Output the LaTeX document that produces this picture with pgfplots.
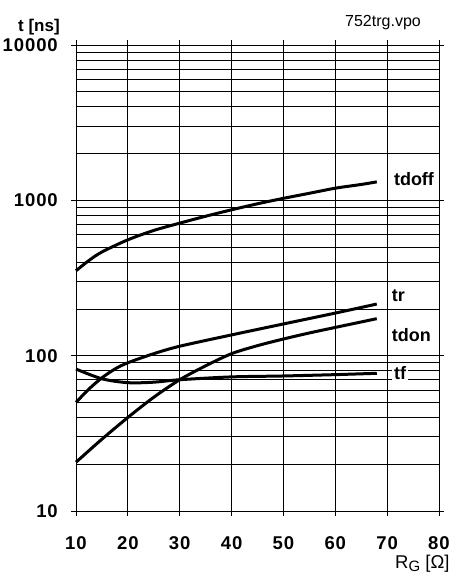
\documentclass[border=0pt]{standalone}
\usepackage{fontspec}
\setmainfont{Liberation Sans}
\newfontfamily\tickfont{Liberation Sans}[LetterSpace=5]
\usepackage{pgfplots}
\pgfplotsset{compat=1.18}
\begin{document}
\begin{tikzpicture}
\path[use as bounding box] (0,0) rectangle (455bp,577bp);
\begin{axis}[
  at={(76bp,66bp)}, anchor=south west,
  scale only axis, width=363bp, height=466bp,
  xmin=10, xmax=80, ymode=log, ymin=10, ymax=10000,
  xtick={10,20,30,40,50,60,70,80},
  ytick={10,100,1000,10000},
  yticklabels={10,100,1000,10000},
  minor ytick={20,30,40,50,60,70,80,90,200,300,400,500,600,700,800,900,2000,3000,4000,5000,6000,7000,8000,9000},
  grid=both,
  major grid style={black, line width=0.8bp},
  minor grid style={black, line width=0.8bp},
  tick align=outside, major tick length=5bp, minor tick length=0pt,
  tick style={black, line width=0.8bp},
  axis line style={line width=0.8bp},
  ticklabel style={font=\fontsize{18.5bp}{21bp}\tickfont\bfseries, inner sep=0pt},
  /pgf/number format/assume math mode=true,
  xticklabel style={yshift=-20bp},
  yticklabel style={xshift=-13bp},
  clip=false,
]
\addplot[black, line width=3bp, smooth] coordinates {
(10,352) (12.5,410) (15,465) (20,557) (25,640) (30,713) (35,790) (40,869) (45,950) (50,1030) (55,1110) (60,1197) (65,1265) (68,1315)};
\addplot[black, line width=3bp, smooth] coordinates {
(10,50) (12.5,61) (15,72) (17.5,82) (20,90) (25,103) (30,115) (40,136) (50,160) (60,188) (68,215)};
\addplot[black, line width=3bp, smooth] coordinates {
(10,20.6) (15,29) (20,40) (25,54) (30,70) (35,86) (40,103) (45,116) (50,128) (55,140) (60,152) (68,173)};
\addplot[black, line width=3bp, smooth] coordinates {
(10,82) (15,71) (20,67) (25,67.5) (30,70) (40,73) (50,74) (60,75.5) (68,77)};
\node[anchor=west, fill=white, inner sep=2bp, font=\fontsize{18bp}{21bp}\selectfont\bfseries] at (axis cs:70.9,1374) {tdoff};
\node[anchor=west, fill=white, inner sep=2bp, font=\fontsize{18bp}{21bp}\selectfont\bfseries] at (axis cs:70.5,243) {tr};
\node[anchor=west, fill=white, inner sep=2bp, font=\fontsize{18bp}{21bp}\selectfont\bfseries] at (axis cs:70.5,136.6) {tdon};
\node[anchor=west, fill=white, inner sep=2bp, font=\fontsize{18bp}{21bp}\selectfont\bfseries] at (axis cs:70.9,77) {tf};
\end{axis}
\node[anchor=base west, inner sep=0pt, font=\fontsize{17bp}{20bp}\selectfont\bfseries] at (18bp,545bp) {t [ns]};
\node[anchor=base west, inner sep=0pt, font=\fontsize{16bp}{19bp}\selectfont] at (345bp,550bp) {752trg.vpo};
\node[anchor=base west, inner sep=0pt, font=\fontsize{18.5bp}{21bp}\selectfont] at (395bp,9bp) {R\raisebox{-3bp}{\fontsize{15bp}{17bp}\selectfont G} [Ω]};
\end{tikzpicture}
\end{document}
